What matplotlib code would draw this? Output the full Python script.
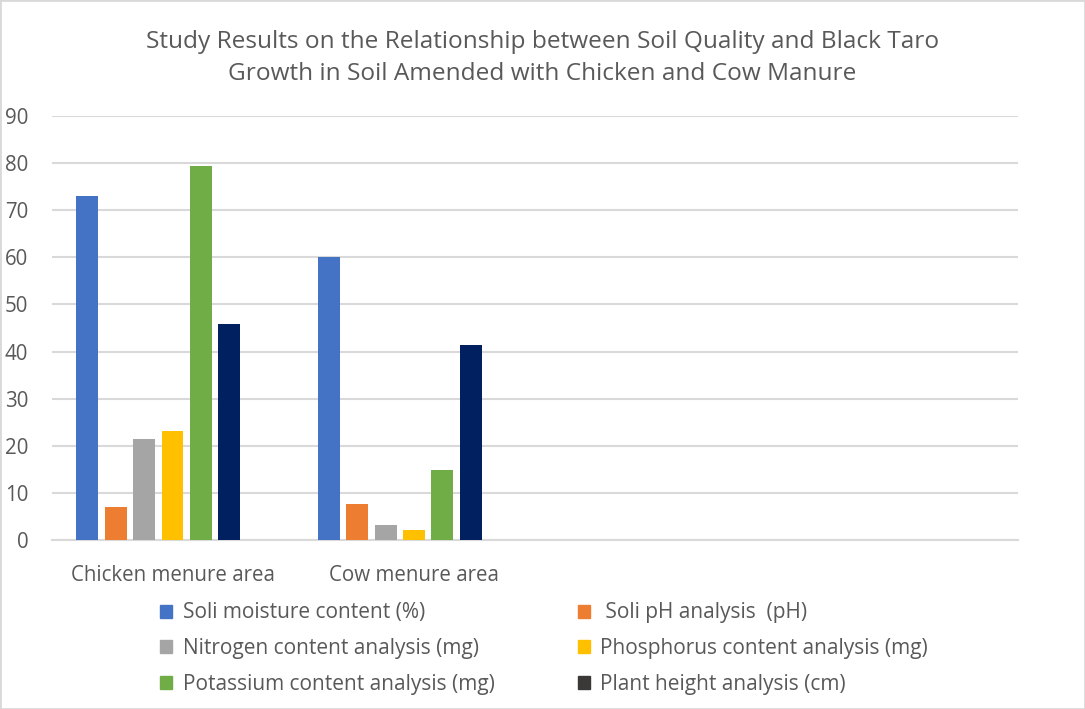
import numpy as np
import matplotlib
matplotlib.use('Agg')
import matplotlib.pyplot as plt
from matplotlib.patches import Patch, Rectangle

plt.rcParams['font.family'] = ['Open Sans', 'DejaVu Sans']

categories = ["Chicken menure area", "Cow menure area"]
series_names = ["Soli moisture content (%)", " Soli pH analysis  (pH)",
                "Nitrogen content analysis (mg)", "Phosphorus content analysis (mg)",
                "Potassium content analysis (mg)", "Plant height analysis (cm)"]
moisture = [73.0, 60.0]
ph = [7.0, 7.6]
nitrogen = [21.4, 3.2]
phosphorus = [23.1, 2.1]
potassium = [79.3, 14.9]
plant_height = [45.8, 41.4]
yticks = [0, 10, 20, 30, 40, 50, 60, 70, 80, 90]

series = [moisture, ph, nitrogen, phosphorus, potassium, plant_height]
bar_colors = ['#4472C4', '#ED7D31', '#A5A5A5', '#FFC000', '#70AD47', '#002060']
legend_colors = ['#4472C4', '#ED7D31', '#A5A5A5', '#FFC000', '#70AD47', '#3B3838']
text_color = '#595959'

fig = plt.figure(figsize=(10.85, 7.09), dpi=100)
ax = fig.add_axes([0.0477, 0.2384, 0.8903, 0.598])

n_slots = 4      # excel axis keeps room for 4 categories
slot = 0.1175
x = np.arange(len(categories))
for i, (vals, c) in enumerate(zip(series, bar_colors)):
    ax.bar(x + (i - 3) * slot, vals, width=0.091, color=c, zorder=3)

ax.set_xlim(-0.5, n_slots - 0.5)
ax.set_ylim(0, 90)
ax.set_yticks(yticks)
ax.yaxis.grid(True, color='#D9D9D9', linewidth=1.5, zorder=0)
ax.set_xticks(x)
ax.set_xticklabels(categories)
ax.tick_params(axis='both', length=0, labelsize=14.8, colors=text_color)
ax.tick_params(axis='y', pad=17)
ax.tick_params(axis='x', pad=18)
for s in ['top', 'right', 'left']:
    ax.spines[s].set_visible(False)
ax.spines['bottom'].set_color('#D9D9D9')
ax.spines['bottom'].set_linewidth(1.5)

fig.suptitle("Study Results on the Relationship between Soil Quality and Black Taro\n"
             "Growth in Soil Amended with Chicken and Cow Manure",
             y=0.957, fontsize=17.6, color=text_color, linespacing=1.42)

handles = [Patch(color=c, label=n) for c, n in zip(legend_colors, series_names)]
order = [0, 2, 4, 1, 3, 5]
fig.legend([handles[i] for i in order], [series_names[i] for i in order],
           ncol=2, loc='upper left', bbox_to_anchor=(0.138, 0.165),
           bbox_transform=fig.transFigure, frameon=False, fontsize=15,
           labelcolor=text_color, handlelength=0.58, handleheight=0.58,
           handletextpad=0.5, columnspacing=4.0, labelspacing=0.7,
           borderpad=0)

fig.add_artist(Rectangle((0, 0), 1, 1, transform=fig.transFigure, fill=False,
                         edgecolor='#D9D9D9', linewidth=2))

fig.savefig('out.png', dpi=100)
